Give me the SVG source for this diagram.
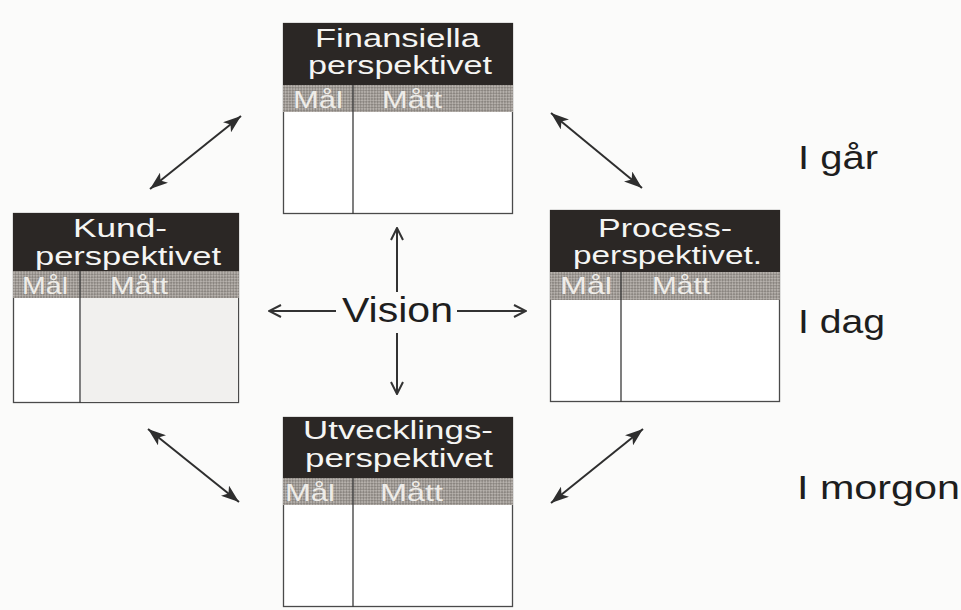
<svg xmlns="http://www.w3.org/2000/svg" width="961" height="610" viewBox="0 0 961 610">
  <defs>
    <style>
      .txt { font-family: "Liberation Sans", Arial, sans-serif; }
      .head { fill: #2b2725; }
      .hd { font-size: 25px; fill: #f5f5f3; text-anchor: start; }
      .col { font-size: 24px; fill: #eeece8; }
      .frame { fill: #ffffff; stroke: #4a4a4a; stroke-width: 1.3; }
      .div { stroke: #3a3a3a; stroke-width: 1.3; }
      .dbl { stroke: #2e2e2e; stroke-width: 2; fill: none; marker-start: url(#barb); marker-end: url(#barb); }
      .vis { stroke: #333333; stroke-width: 2; fill: none; marker-end: url(#chev); }
      .lbl { font-size: 33px; fill: #1e1e1e; }
    </style>
    <pattern id="hatch" width="4" height="4" patternUnits="userSpaceOnUse" patternTransform="rotate(45)">
      <rect width="4" height="4" fill="#8a8580"/>
      <rect width="2" height="2" fill="#b6b1ac"/>
      <rect x="2" y="2" width="2" height="2" fill="#b6b1ac"/>
    </pattern>
    <marker id="barb" viewBox="0 0 18 13" refX="18" refY="6.5" markerWidth="18" markerHeight="13" markerUnits="userSpaceOnUse" orient="auto-start-reverse">
      <path d="M0,0 L18,6.5 L0,13 L4.5,6.5 z" fill="#2e2e2e"/>
    </marker>
    <marker id="chev" viewBox="0 0 14 14" refX="13" refY="7" markerWidth="14" markerHeight="14" markerUnits="userSpaceOnUse" orient="auto">
      <path d="M1,1 L13,7 L1,13" fill="none" stroke="#333333" stroke-width="2"/>
    </marker>
  </defs>

  <rect width="961" height="610" fill="#fbfbfa"/>

  <!-- Finansiella perspektivet -->
  <g id="finansiella" class="txt">
    <rect class="frame" x="283.5" y="23.5" width="229" height="190"/>
    <rect class="head" x="283" y="23" width="230" height="62"/>
    <rect x="283" y="85" width="230" height="27" fill="url(#hatch)"/>
    <line class="div" x1="353" y1="85" x2="353" y2="214"/>
    <text class="hd" x="315" y="47" textLength="165" lengthAdjust="spacingAndGlyphs">Finansiella</text>
    <text class="hd" x="308" y="74" textLength="184" lengthAdjust="spacingAndGlyphs">perspektivet</text>
    <text class="col" x="293" y="108" textLength="50" lengthAdjust="spacingAndGlyphs">Mål</text>
    <text class="col" x="382" y="108" textLength="60" lengthAdjust="spacingAndGlyphs">Mått</text>
  </g>

  <!-- Kundperspektivet -->
  <g id="kund" class="txt">
    <rect class="frame" x="13.5" y="213.5" width="225" height="189"/>
    <rect x="81" y="298" width="157" height="104" fill="#f1f0ee"/>
    <rect class="head" x="13" y="213" width="226" height="58"/>
    <rect x="13" y="271" width="226" height="27" fill="url(#hatch)"/>
    <line class="div" x1="80" y1="271" x2="80" y2="403"/>
    <text class="hd" x="73" y="237" textLength="94" lengthAdjust="spacingAndGlyphs">Kund-</text>
    <text class="hd" x="35" y="265" textLength="186" lengthAdjust="spacingAndGlyphs">perspektivet</text>
    <text class="col" x="22" y="294" textLength="46" lengthAdjust="spacingAndGlyphs">Mål</text>
    <text class="col" x="110" y="294" textLength="58" lengthAdjust="spacingAndGlyphs">Mått</text>
  </g>

  <!-- Processperspektivet -->
  <g id="process" class="txt">
    <rect class="frame" x="550.5" y="210.5" width="229" height="191"/>
    <rect class="head" x="550" y="210" width="230" height="62"/>
    <rect x="550" y="272" width="230" height="28" fill="url(#hatch)"/>
    <line class="div" x1="621" y1="272" x2="621" y2="402"/>
    <text class="hd" x="598" y="237" textLength="134" lengthAdjust="spacingAndGlyphs">Process-</text>
    <text class="hd" x="573" y="264" textLength="189" lengthAdjust="spacingAndGlyphs">perspektivet.</text>
    <text class="col" x="560" y="294" textLength="52" lengthAdjust="spacingAndGlyphs">Mål</text>
    <text class="col" x="652" y="294" textLength="58" lengthAdjust="spacingAndGlyphs">Mått</text>
  </g>

  <!-- Utvecklingsperspektivet -->
  <g id="utveckling" class="txt">
    <rect class="frame" x="283.5" y="417.5" width="229" height="189"/>
    <rect class="head" x="283" y="417" width="230" height="61"/>
    <rect x="283" y="478" width="230" height="27" fill="url(#hatch)"/>
    <line class="div" x1="353" y1="478" x2="353" y2="607"/>
    <text class="hd" x="303" y="439" textLength="190" lengthAdjust="spacingAndGlyphs">Utvecklings-</text>
    <text class="hd" x="305" y="467" textLength="188" lengthAdjust="spacingAndGlyphs">perspektivet</text>
    <text class="col" x="285" y="501" textLength="50" lengthAdjust="spacingAndGlyphs">Mål</text>
    <text class="col" x="380" y="501" textLength="63" lengthAdjust="spacingAndGlyphs">Mått</text>
  </g>

  <!-- Vision in the centre -->
  <g id="vision" class="txt">
    <text x="342" y="322" font-size="35" fill="#1e1e1e" textLength="111" lengthAdjust="spacingAndGlyphs">Vision</text>
  </g>

  <!-- Time labels -->
  <g id="igar" class="txt"><text class="lbl" x="798" y="169" textLength="80" lengthAdjust="spacingAndGlyphs">I går</text></g>
  <g id="idag" class="txt"><text class="lbl" x="798" y="333" textLength="87" lengthAdjust="spacingAndGlyphs">I dag</text></g>
  <g id="imorgon" class="txt"><text class="lbl" x="797" y="499" textLength="163" lengthAdjust="spacingAndGlyphs">I morgon</text></g>

  <!-- Connectors -->
  <g id="connectors">
    <line class="dbl" x1="150" y1="189" x2="241" y2="116"/>
    <line class="dbl" x1="551" y1="113" x2="642" y2="188"/>
    <line class="dbl" x1="148" y1="429" x2="239" y2="502"/>
    <line class="dbl" x1="643" y1="429" x2="551" y2="503"/>
    <line class="vis" x1="336" y1="311" x2="269" y2="311"/>
    <line class="vis" x1="457" y1="311" x2="526" y2="311"/>
    <line class="vis" x1="397" y1="292" x2="397" y2="228"/>
    <line class="vis" x1="397" y1="333" x2="397" y2="394"/>
  </g>
</svg>
